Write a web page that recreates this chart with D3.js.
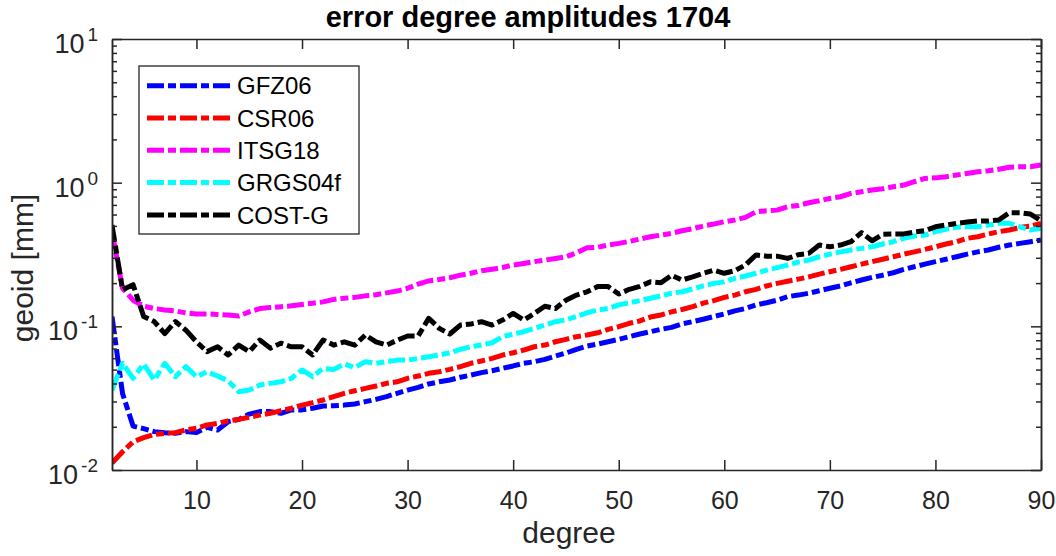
<!DOCTYPE html>
<html>
<head>
<meta charset="utf-8">
<script src="https://cdn.jsdelivr.net/npm/d3@7"></script>
<style>
  body { margin: 0; background: #fff; }
  #chart { width: 1056px; height: 556px; }
  text { font-family: "Liberation Sans", Arial, Helvetica, sans-serif; }
</style>
</head>
<body>
<div id="chart"></div>
<script>
// data: degree 2..90
const degrees = d3.range(2, 91)

const gfz06 = [0.117, 0.034, 0.0202, 0.0194, 0.0185, 0.0182, 0.018, 0.0185, 0.0182, 0.0198,
  0.019, 0.0217, 0.0225, 0.0245, 0.0255, 0.0255, 0.0248, 0.0262, 0.0262, 0.0269,
  0.0279, 0.028, 0.0283, 0.0288, 0.0299, 0.031, 0.0324, 0.0342, 0.036, 0.0376,
  0.0397, 0.0411, 0.0423, 0.0442, 0.0458, 0.0476, 0.0491, 0.051, 0.053, 0.0553,
  0.0567, 0.0589, 0.0621, 0.0652, 0.0692, 0.0729, 0.0753, 0.0781, 0.0812, 0.0847,
  0.0884, 0.0917, 0.0953, 0.0984, 0.104, 0.1077, 0.112, 0.117, 0.122, 0.128,
  0.133, 0.141, 0.146, 0.152, 0.161, 0.165, 0.17, 0.177, 0.184, 0.191,
  0.201, 0.21, 0.219, 0.227, 0.236, 0.249, 0.26, 0.271, 0.282, 0.293,
  0.305, 0.318, 0.33, 0.34, 0.355, 0.368, 0.378, 0.388, 0.399]

const csr06 = [0.0112, 0.0134, 0.0157, 0.0168, 0.0177, 0.018, 0.0182, 0.019, 0.0195, 0.0206,
  0.0211, 0.022, 0.0225, 0.0233, 0.0241, 0.0248, 0.0259, 0.0269, 0.0283, 0.0294,
  0.0307, 0.0324, 0.0342, 0.0356, 0.037, 0.0384, 0.0401, 0.0411, 0.0435, 0.0451,
  0.0471, 0.0483, 0.0502, 0.0524, 0.0553, 0.0574, 0.0598, 0.0631, 0.0655, 0.0684,
  0.0721, 0.0741, 0.0781, 0.0812, 0.0847, 0.087, 0.0902, 0.0953, 0.0994, 0.105,
  0.109, 0.116, 0.12, 0.126, 0.131, 0.137, 0.145, 0.151, 0.159, 0.165,
  0.174, 0.181, 0.191, 0.199, 0.206, 0.213, 0.221, 0.231, 0.24, 0.249,
  0.26, 0.271, 0.282, 0.293, 0.305, 0.318, 0.33, 0.343, 0.358, 0.374,
  0.388, 0.41, 0.42, 0.439, 0.456, 0.468, 0.489, 0.499, 0.521]

const itsg18 = [0.455, 0.184, 0.152, 0.138, 0.133, 0.13, 0.128, 0.124, 0.122, 0.122,
  0.121, 0.12, 0.118, 0.126, 0.133, 0.135, 0.137, 0.139, 0.142, 0.145,
  0.148, 0.154, 0.157, 0.159, 0.163, 0.166, 0.171, 0.176, 0.184, 0.197,
  0.207, 0.212, 0.218, 0.227, 0.234, 0.244, 0.25, 0.257, 0.267, 0.274,
  0.282, 0.289, 0.297, 0.305, 0.325, 0.352, 0.355, 0.368, 0.378, 0.39,
  0.405, 0.42, 0.432, 0.444, 0.463, 0.478, 0.499, 0.515, 0.535, 0.55,
  0.573, 0.627, 0.637, 0.644, 0.68, 0.693, 0.725, 0.748, 0.777, 0.798,
  0.842, 0.864, 0.888, 0.906, 0.937, 0.962, 1.015, 1.07, 1.08, 1.10,
  1.13, 1.16, 1.19, 1.21, 1.24, 1.28, 1.29, 1.29, 1.33]

const grgs04f = [0.036, 0.0553, 0.0435, 0.0547, 0.0423, 0.0553, 0.0446, 0.0524, 0.0446, 0.0483,
  0.0451, 0.0418, 0.0351, 0.036, 0.0391, 0.0401, 0.0411, 0.0435, 0.0497, 0.0446,
  0.051, 0.05, 0.0547, 0.0518, 0.0567, 0.0553, 0.0567, 0.0582, 0.0582, 0.0598,
  0.0615, 0.0631, 0.0655, 0.0692, 0.0721, 0.0741, 0.0769, 0.0847, 0.0884, 0.0917,
  0.0968, 0.102, 0.1077, 0.111, 0.117, 0.124, 0.13, 0.133, 0.141, 0.146,
  0.151, 0.157, 0.163, 0.17, 0.174, 0.182, 0.191, 0.199, 0.204, 0.216,
  0.224, 0.234, 0.246, 0.256, 0.267, 0.28, 0.289, 0.305, 0.318, 0.33,
  0.34, 0.349, 0.358, 0.374, 0.388, 0.41, 0.425, 0.432, 0.456, 0.473,
  0.489, 0.493, 0.493, 0.507, 0.521, 0.521, 0.493, 0.468, 0.481]

const costg = [0.507, 0.18, 0.195, 0.117, 0.108, 0.089, 0.108, 0.094, 0.078, 0.0667,
  0.072, 0.0632, 0.074, 0.0667, 0.0803, 0.0705, 0.0763, 0.072, 0.072, 0.0632,
  0.0803, 0.074, 0.078, 0.074, 0.087, 0.078, 0.074, 0.08, 0.0857, 0.0857,
  0.1137, 0.0968, 0.0884, 0.102, 0.1038, 0.1077, 0.102, 0.1106, 0.123, 0.1106,
  0.123, 0.138, 0.133, 0.152, 0.165, 0.174, 0.189, 0.189, 0.168, 0.181,
  0.19, 0.204, 0.201, 0.227, 0.21, 0.221, 0.234, 0.246, 0.234, 0.244,
  0.267, 0.314, 0.308, 0.308, 0.297, 0.315, 0.322, 0.368, 0.358, 0.368,
  0.388, 0.449, 0.394, 0.437, 0.44, 0.44, 0.453, 0.463, 0.493, 0.507,
  0.521, 0.532, 0.541, 0.541, 0.55, 0.618, 0.618, 0.605, 0.543]

const seriesNames = ['GFZ06', 'CSR06', 'ITSG18', 'GRGS04f', 'COST-G']
const seriesColors = ['#0000ff', '#ff0000', '#ff00ff', '#00ffff', '#000000']
const seriesValues = [gfz06, csr06, itsg18, grgs04f, costg]

const xTicks = [10, 20, 30, 40, 50, 60, 70, 80, 90]
const yMajor = [0.01, 0.1, 1, 10]
const yExp = ['-2', '-1', '0', '1']

function draw() {
  let dimensions = {
    width: 1056,
    height: 556,
    margin: { top: 39, right: 15, bottom: 86, left: 112 }
  }
  dimensions.ctrWidth = dimensions.width - dimensions.margin.left - dimensions.margin.right
  dimensions.ctrHeight = dimensions.height - dimensions.margin.top - dimensions.margin.bottom

  const svg = d3.select('#chart')
    .append('svg')
    .attr('width', dimensions.width)
    .attr('height', dimensions.height)

  const ctr = svg.append('g')
    .attr('transform', `translate(${dimensions.margin.left}, ${dimensions.margin.top})`)

  // scales
  const xScale = d3.scaleLinear()
    .domain([2, 90])
    .range([0, dimensions.ctrWidth])
  const yScale = d3.scaleLog()
    .domain([0.01, 10])
    .range([dimensions.ctrHeight, 0])

  const yMinor = []
  yMajor.slice(0, 3).forEach(m => { for (let k = 2; k <= 9; k++) yMinor.push(+(m * k).toPrecision(3)) })

  // lines
  const line = d3.line()
    .x((d, i) => xScale(degrees[i]))
    .y(d => yScale(d))

  ctr.append('defs').append('clipPath').attr('id', 'clip')
    .append('rect').attr('width', dimensions.ctrWidth).attr('height', dimensions.ctrHeight)

  ctr.append('g')
    .attr('clip-path', 'url(#clip)')
    .selectAll('path')
    .data(seriesValues)
    .join('path')
    .attr('d', line)
    .attr('fill', 'none')
    .attr('stroke', (d, i) => seriesColors[i])
    .attr('stroke-width', 5)
    .attr('stroke-dasharray', '17,4,8,4')
    .attr('stroke-linejoin', 'round')

  // axes
  const axisColor = '#262626'
  const styleAxis = g => {
    g.selectAll('.domain').attr('stroke', axisColor).attr('stroke-width', 1.5)
    g.selectAll('.tick line').attr('stroke', axisColor).attr('stroke-width', 1.5)
    g.selectAll('text').attr('fill', axisColor)
  }

  ctr.append('g')
    .attr('transform', `translate(0, ${dimensions.ctrHeight})`)
    .call(d3.axisBottom(xScale).tickValues(xTicks).tickSizeInner(-10).tickSizeOuter(0).tickPadding(21))
    .call(styleAxis)
    .call(g => g.selectAll('text').style('font-size', '25px'))

  ctr.append('g')
    .call(d3.axisTop(xScale).tickValues(xTicks).tickSizeInner(-10).tickSizeOuter(0).tickFormat(''))
    .call(styleAxis)

  ctr.append('g')
    .call(d3.axisLeft(yScale).tickValues(yMajor).tickSizeInner(-10).tickSizeOuter(0).tickFormat(''))
    .call(styleAxis)
  ctr.append('g')
    .call(d3.axisLeft(yScale).tickValues(yMinor).tickSizeInner(-5).tickSizeOuter(0).tickFormat(''))
    .call(styleAxis)
  ctr.append('g')
    .attr('transform', `translate(${dimensions.ctrWidth}, 0)`)
    .call(d3.axisRight(yScale).tickValues(yMajor).tickSizeInner(-10).tickSizeOuter(0).tickFormat(''))
    .call(styleAxis)
  ctr.append('g')
    .attr('transform', `translate(${dimensions.ctrWidth}, 0)`)
    .call(d3.axisRight(yScale).tickValues(yMinor).tickSizeInner(-5).tickSizeOuter(0).tickFormat(''))
    .call(styleAxis)

  // y tick labels 10^n
  const yLabels = ctr.append('g')
    .selectAll('text')
    .data(yMajor)
    .join('text')
    .attr('x', -14)
    .attr('y', d => yScale(d) + 14)
    .attr('text-anchor', 'end')
    .attr('fill', axisColor)
    .style('font-size', '27px')
  yLabels.append('tspan').text('10')
  yLabels.append('tspan')
    .attr('dx', 3)
    .attr('dy', -12)
    .style('font-size', '19px')
    .text((d, i) => yExp[i])

  // axis labels
  svg.append('text')
    .attr('x', 569)
    .attr('y', 543)
    .attr('text-anchor', 'middle')
    .attr('fill', axisColor)
    .style('font-size', '30px')
    .text('degree')

  svg.append('text')
    .attr('transform', 'translate(33, 268) rotate(-90)')
    .attr('text-anchor', 'middle')
    .attr('fill', axisColor)
    .style('font-size', '30px')
    .text('geoid [mm]')

  // title
  svg.append('text')
    .attr('x', 528)
    .attr('y', 27)
    .attr('text-anchor', 'middle')
    .attr('fill', '#000')
    .style('font-size', '29px')
    .style('font-weight', 'bold')
    .text('error degree amplitudes 1704')

  // legend
  const legend = svg.append('g')
    .attr('transform', 'translate(139, 66)')
  legend.append('rect')
    .attr('width', 220)
    .attr('height', 168)
    .attr('fill', '#fff')
    .attr('stroke', axisColor)
    .attr('stroke-width', 1.3)

  const items = legend.selectAll('g.item')
    .data(seriesNames)
    .join('g')
    .attr('class', 'item')
    .attr('transform', (d, i) => `translate(0, ${19.7 + i * 32.3})`)
  items.append('line')
    .attr('x1', 8)
    .attr('x2', 91)
    .attr('stroke', (d, i) => seriesColors[i])
    .attr('stroke-width', 5)
    .attr('stroke-dasharray', '17,4,8,4')
  items.append('text')
    .attr('x', 98)
    .attr('dy', '0.36em')
    .attr('fill', '#000')
    .style('font-size', '24px')
    .text(d => d)
}

draw()
</script>
</body>
</html>
